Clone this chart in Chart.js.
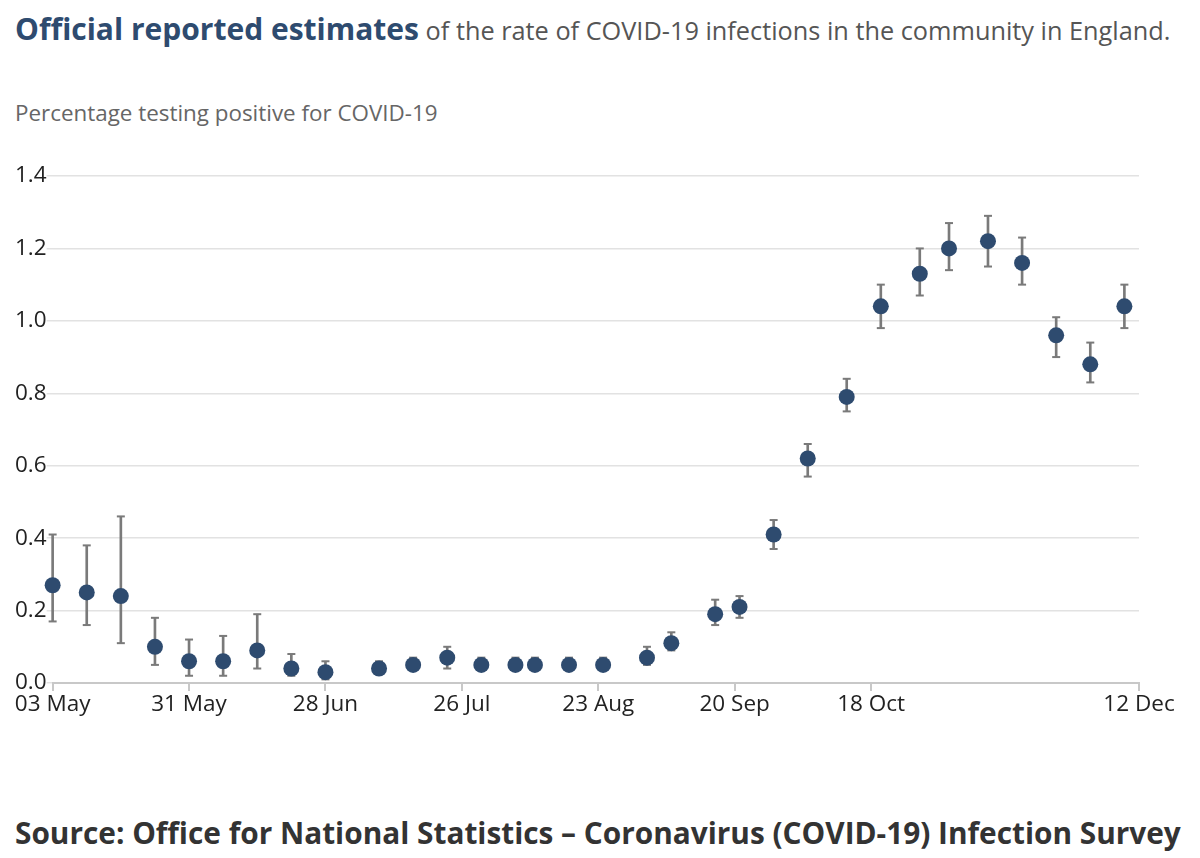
<!DOCTYPE html>
<html>
<head>
<meta charset="utf-8">
<script src="https://cdn.jsdelivr.net/npm/chart.js@4.4.0/dist/chart.umd.min.js"></script>
<style>
  html, body { margin: 0; padding: 0; background: #fff; }
  body { width: 1200px; height: 858px; position: relative; overflow: hidden; font-family: "Open Sans", sans-serif; }
  #title { position: absolute; left: 15px; top: 8px; font-size: 25.3px; color: #555; white-space: nowrap; }
  #title b { color: #2e4b6f; font-weight: 700; font-size: 30px; }
  #subtitle { position: absolute; left: 15px; top: 97px; font-size: 22.4px; color: #666; white-space: nowrap; }
  #source { position: absolute; left: 15px; top: 812px; font-size: 29.8px; font-weight: 700; color: #333; white-space: nowrap; }
  #wrap { position: absolute; left: 0; top: 140px; width: 1200px; height: 620px; }
</style>
</head>
<body>
<div id="title"><b>Official reported estimates</b> of the rate of COVID-19 infections in the community in England.</div>
<div id="subtitle">Percentage testing positive for COVID-19</div>
<div id="wrap"><canvas id="chart"></canvas></div>
<div id="source">Source: Office for National Statistics – Coronavirus (COVID-19) Infection Survey</div>
<script>
// survey reference dates (2020) and estimates, % testing positive
const dates = ['2020-05-03','2020-05-10','2020-05-17','2020-05-24','2020-05-31','2020-06-07','2020-06-14','2020-06-21',
  '2020-06-28','2020-07-09','2020-07-16','2020-07-23','2020-07-30','2020-08-06','2020-08-10','2020-08-17',
  '2020-08-24','2020-09-02','2020-09-07','2020-09-16','2020-09-21','2020-09-28','2020-10-05','2020-10-13',
  '2020-10-20','2020-10-28','2020-11-03','2020-11-11','2020-11-18','2020-11-25','2020-12-02','2020-12-09'];
const estimate = [0.27,0.25,0.24,0.10,0.06,0.06,0.09,0.04,0.03,0.04,0.05,0.07,0.05,0.05,0.05,0.05,
  0.05,0.07,0.11,0.19,0.21,0.41,0.62,0.79,1.04,1.13,1.20,1.22,1.16,0.96,0.88,1.04];
const lower = [0.17,0.16,0.11,0.05,0.02,0.02,0.04,0.02,0.01,0.03,0.04,0.04,0.04,0.04,0.04,0.04,
  0.04,0.05,0.09,0.16,0.18,0.37,0.57,0.75,0.98,1.07,1.14,1.15,1.10,0.90,0.83,0.98];
const upper = [0.41,0.38,0.46,0.18,0.12,0.13,0.19,0.08,0.06,0.06,0.07,0.10,0.07,0.07,0.07,0.07,
  0.07,0.10,0.14,0.23,0.24,0.45,0.66,0.84,1.10,1.20,1.27,1.29,1.23,1.01,0.94,1.10];

const tickDates = ['2020-05-03','2020-05-31','2020-06-28','2020-07-26','2020-08-23','2020-09-20','2020-10-18','2020-12-12'];
const tickLabels = ['03 May','31 May','28 Jun','26 Jul','23 Aug','20 Sep','18 Oct','12 Dec'];

const start = Date.parse(dates[0]);
const dayOf = d => Math.round((Date.parse(d) - start) / 86400000);
const days = dates.map(dayOf);
const tickDays = tickDates.map(dayOf);

const navy = '#2e4b6f';
const barGrey = '#7a7a7a';

new Chart(document.getElementById('chart'), {
  type: 'scatter',
  data: {
    datasets: [
      {
        type: 'bar',
        data: days.map((x, i) => ({ x: x, y: [lower[i], upper[i]] })),
        backgroundColor: barGrey,
        barThickness: 2,
        clip: false,
        order: 3
      },
      {
        data: days.flatMap((x, i) => [{ x: x, y: lower[i] }, { x: x, y: upper[i] }]),
        pointStyle: 'line',
        radius: 4,
        borderColor: barGrey,
        borderWidth: 2,
        clip: false,
        order: 2
      },
      {
        data: days.map((x, i) => ({ x: x, y: estimate[i] })),
        pointStyle: 'circle',
        radius: 8,
        backgroundColor: navy,
        borderColor: navy,
        borderWidth: 0,
        clip: false,
        order: 1
      }
    ]
  },
  options: {
    responsive: true,
    maintainAspectRatio: false,
    animation: false,
    layout: { padding: { left: 15, right: 61, top: 36, bottom: 42 } },
    plugins: { legend: { display: false }, tooltip: { enabled: false } },
    scales: {
      x: {
        type: 'linear',
        min: 0,
        max: tickDays[tickDays.length - 1],
        offset: false,
        afterBuildTicks: axis => { axis.ticks = tickDays.map(v => ({ value: v })); },
        ticks: {
          autoSkip: false,
          maxRotation: 0,
          padding: 0,
          color: '#222',
          font: { family: 'Open Sans', size: 22.5 },
          callback: (v) => tickLabels[tickDays.indexOf(v)]
        },
        grid: { offset: false, drawOnChartArea: false, drawTicks: true, tickLength: 8, color: '#c8c8c8', lineWidth: 2 },
        border: { display: true, color: '#c8c8c8', width: 2 }
      },
      y: {
        min: 0,
        max: 1.4,
        ticks: {
          stepSize: 0.2,
          padding: 0,
          color: '#222',
          font: { family: 'Open Sans', size: 22.5 },
          callback: v => v.toFixed(1)
        },
        grid: { color: '#e2e2e2', lineWidth: 1.5, tickLength: 6 },
        border: { display: false }
      }
    }
  }
});
</script>
</body>
</html>
